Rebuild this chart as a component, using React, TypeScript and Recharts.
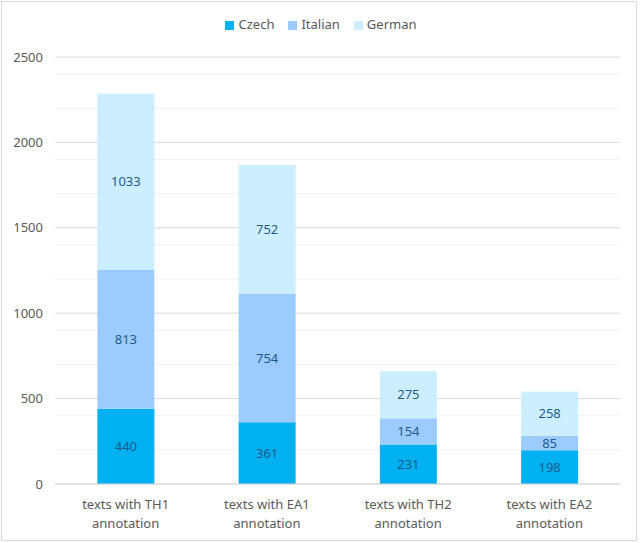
import { BarChart, Bar, XAxis, YAxis, CartesianGrid, Legend, LabelList } from "recharts";

const categories = [
  "texts with TH1 annotation",
  "texts with EA1 annotation",
  "texts with TH2 annotation",
  "texts with EA2 annotation",
];
const seriesNames = ["Czech", "Italian", "German"];
const czech = [440, 361, 231, 198];
const italian = [813, 754, 154, 85];
const german = [1033, 752, 275, 258];

const majorTicks = [0, 500, 1000, 1500, 2000, 2500];
const minorTicks = [100, 200, 300, 400, 600, 700, 800, 900, 1100, 1200, 1300, 1400, 1600, 1700, 1800, 1900, 2100, 2200, 2300, 2400];

const data = categories.map((name, i) => ({
  name,
  Czech: czech[i],
  Italian: italian[i],
  German: german[i],
}));

const FONT = "'Noto Sans', sans-serif";
const LABEL = "#1f5c8b";

function CategoryTick(props: any) {
  const { x, y, payload } = props;
  const text: string = payload.value;
  const cut = text.lastIndexOf(" ");
  return (
    <text x={x} y={y} textAnchor="middle" fill="#595959" fontSize={13} fontFamily={FONT}>
      <tspan x={x} dy={17}>{text.slice(0, cut)}</tspan>
      <tspan x={x} dy={19}>{text.slice(cut + 1)}</tspan>
    </text>
  );
}

export default function App() {
  return (
    <div style={{ position: "absolute", left: 0, top: 0, width: 640, height: 543, background: "#fff" }}>
      <div
        style={{
          position: "absolute",
          left: 1,
          top: 1,
          width: 636,
          height: 540,
          border: "1px solid #d9d9d9",
          boxSizing: "border-box",
        }}
      />
      <BarChart
        width={640}
        height={543}
        data={data}
        margin={{ top: 39, right: 20, bottom: 9, left: 0 }}
        barCategoryGap="30%"
        style={{ fontFamily: FONT }}
      >
        <CartesianGrid horizontalValues={minorTicks} vertical={false} stroke="#f0f0f0" />
        <CartesianGrid vertical={false} stroke="#d9d9d9" />
        <XAxis
          dataKey="name"
          tick={<CategoryTick />}
          tickLine={false}
          axisLine={{ stroke: "#d9d9d9" }}
          height={50}
          interval={0}
        />
        <YAxis
          domain={[0, 2500]}
          ticks={majorTicks}
          tickLine={false}
          axisLine={false}
          width={55}
          tick={{ fill: "#595959", fontSize: 13, fontFamily: FONT, dx: -4 }}
        />
        <Legend
          verticalAlign="top"
          align="center"
          iconType="square"
          iconSize={9}
          itemSorter={(item: any) => seriesNames.indexOf(item.value)}
          wrapperStyle={{ top: 15, left: 8, width: 640, fontSize: 13, fontFamily: FONT }}
          formatter={(v) => <span style={{ color: "#595959", paddingRight: 4 }}>{v}</span>}
        />
        <Bar dataKey="Czech" stackId="a" fill="#00b0f0" isAnimationActive={false}>
          <LabelList dataKey="Czech" position="center" fill={LABEL} fontSize={13} fontFamily={FONT} />
        </Bar>
        <Bar dataKey="Italian" stackId="a" fill="#9bcbff" isAnimationActive={false}>
          <LabelList dataKey="Italian" position="center" fill={LABEL} fontSize={13} fontFamily={FONT} />
        </Bar>
        <Bar dataKey="German" stackId="a" fill="#cceeff" isAnimationActive={false}>
          <LabelList dataKey="German" position="center" fill={LABEL} fontSize={13} fontFamily={FONT} />
        </Bar>
      </BarChart>
    </div>
  );
}
